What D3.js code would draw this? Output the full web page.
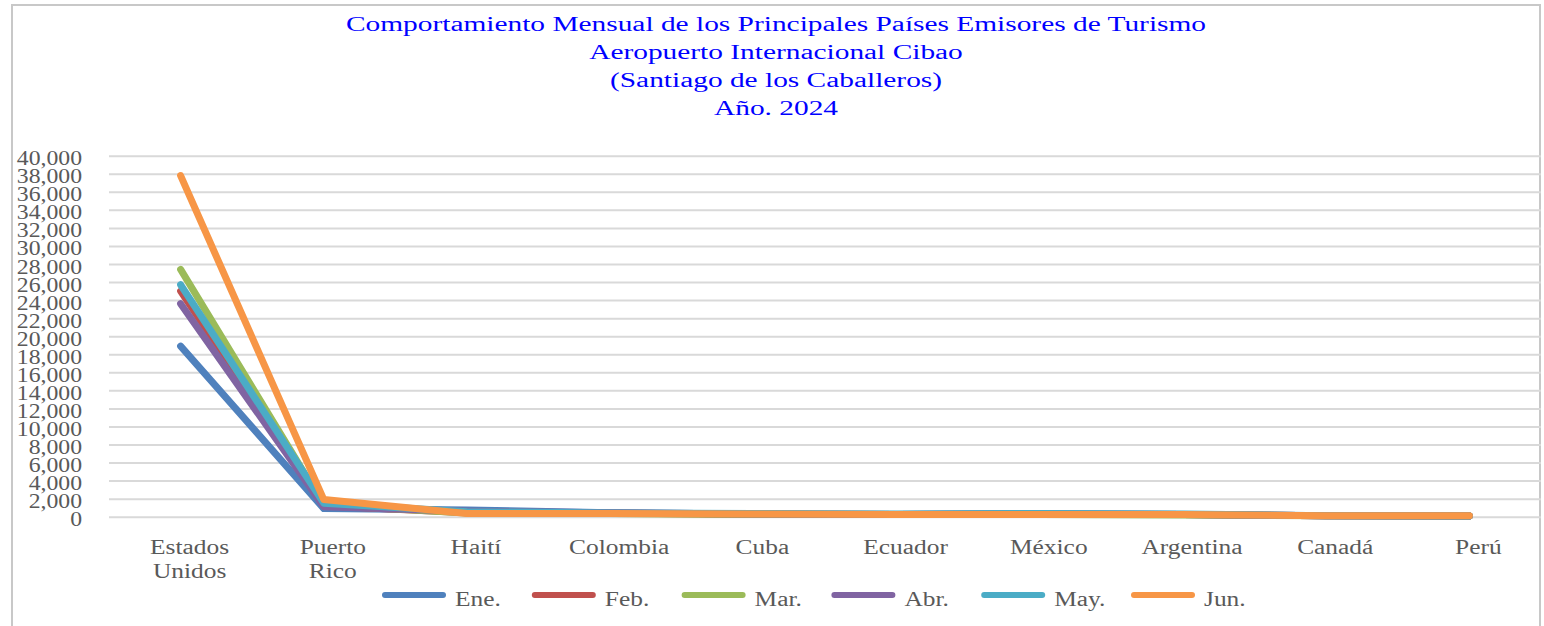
<!DOCTYPE html>
<html>
<head>
<meta charset="utf-8">
<script src="https://cdn.jsdelivr.net/npm/d3@7"></script>
<style>
  body { margin: 0; background: #fff; }
  svg text { font-family: "Liberation Serif", "Times New Roman", serif; }
</style>
</head>
<body>
<div id="chart"></div>
<script>
// chart data
var countries = ["Estados Unidos", "Puerto Rico", "Haití", "Colombia", "Cuba", "Ecuador", "México", "Argentina", "Canadá", "Perú"];
var months = ["Ene.", "Feb.", "Mar.", "Abr.", "May.", "Jun."];
var colors = ["#4F81BD", "#C0504D", "#9BBB59", "#8064A2", "#4BACC6", "#F79646"];

var ene = [18900, 900, 750, 450, 300, 250, 300, 250, 100, 80];
var feb = [25000, 1200, 450, 400, 250, 250, 300, 250, 100, 80];
var mar = [27400, 1300, 400, 350, 250, 250, 250, 200, 100, 80];
var abr = [23600, 1100, 600, 450, 300, 250, 300, 250, 100, 80];
var may = [25700, 1500, 550, 400, 350, 300, 350, 300, 100, 80];
var jun = [37800, 1900, 350, 350, 300, 250, 250, 250, 100, 100];
var series = [ene, feb, mar, abr, may, jun];

var yTicks = d3.range(0, 40001, 2000);
var titleLines = ["Comportamiento Mensual de los Principales Países Emisores de Turismo",
                  "Aeropuerto Internacional Cibao",
                  "(Santiago  de los Caballeros)",
                  "Año. 2024"];

var W = 1544, H = 626;
var plotL = 109, plotR = 1541, plotT = 155.7, plotB = 516.7;

var svg = d3.select("#chart").append("svg")
            .attr("width", W)
            .attr("height", H);

// outer border
svg.append("rect")
   .attr("x", 12).attr("y", 5)
   .attr("width", 1528).attr("height", 660)
   .style("fill", "white")
   .style("stroke", "#c8c8c8")
   .style("stroke-width", 2);

var x = d3.scaleBand().domain(countries).range([plotL, plotR]);
var y = d3.scaleLinear().domain([0, 40000]).range([plotB, plotT]);

// title
var tSX = 1.47;
titleLines.forEach(function(t, i) {
    svg.append("text").text(t)
       .attr("transform", "translate(776," + (31 + i * 28) + ") scale(" + tSX + ",1)")
       .attr("text-anchor", "middle")
       .attr("font-size", "20px")
       .style("fill", "#0000FF");
});

// gridlines
var grid = svg.append("g")
    .attr("transform", "translate(" + plotL + ",0)")
    .call(d3.axisLeft(y).tickValues(yTicks).tickSize(-(plotR - plotL)).tickFormat(""));
grid.select(".domain").remove();
grid.selectAll("line").style("stroke", "#d9d9d9").style("stroke-width", 2);

// y axis labels
var yAxis = svg.append("g")
    .attr("transform", "translate(82,0)")
    .call(d3.axisLeft(y).tickValues(yTicks).tickSize(0).tickFormat(d3.format(",")));
yAxis.select(".domain").remove();
yAxis.selectAll("text")
     .attr("x", 0).attr("dy", null)
     .attr("transform", "translate(0,9) scale(1.13,1)")
     .attr("font-size", "21px")
     .style("fill", "#595959");

// x axis labels (wrapped)
var xAxis = svg.append("g")
    .attr("transform", "translate(9," + plotB + ")")
    .call(d3.axisBottom(x).tickSize(0).tickFormat(""));
xAxis.select(".domain").remove();
xAxis.selectAll(".tick").each(function(d) {
    var words = (d === "Estados Unidos" || d === "Puerto Rico") ? d.split(" ") : [d];
    var tk = d3.select(this);
    words.forEach(function(w, i) {
        tk.append("text").text(w)
          .attr("transform", "translate(0," + (37 + i * 24) + ") scale(1.27,1)")
          .attr("text-anchor", "middle")
          .attr("font-size", "20px")
          .style("fill", "#595959");
    });
});

// lines
var line = d3.line()
    .x(function(d, i) { return x(countries[i]) + x.bandwidth() / 2; })
    .y(function(d) { return y(d); });

svg.append("g").selectAll("path")
   .data(series)
   .enter()
   .append("path")
   .attr("d", line)
   .style("fill", "none")
   .style("stroke", function(d, i) { return colors[i]; })
   .style("stroke-width", 7)
   .style("stroke-linejoin", "round")
   .style("stroke-linecap", "round");

// legend
var legend = svg.append("g").attr("transform", "translate(383,597)");
months.forEach(function(m, i) {
    var lg = legend.append("g").attr("transform", "translate(" + (i * 149.8) + ",0)");
    lg.append("line")
      .attr("x1", 2).attr("x2", 60)
      .attr("y1", -2).attr("y2", -2)
      .style("stroke", colors[i])
      .style("stroke-width", 6)
      .style("stroke-linecap", "round");
    lg.append("text").text(m)
      .attr("transform", "translate(72,9) scale(1.27,1)")
      .attr("font-size", "20px")
      .style("fill", "#595959");
});
</script>
</body>
</html>
